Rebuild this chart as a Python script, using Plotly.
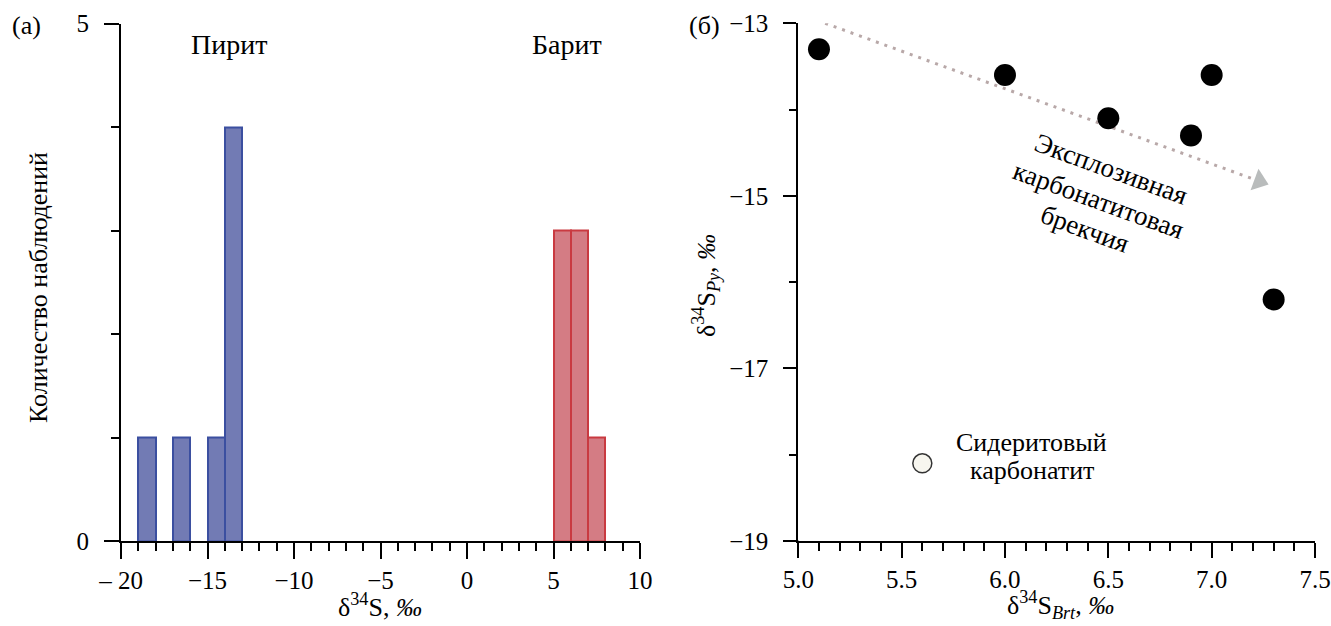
import plotly.graph_objects as go

W, H = 1331, 626

# ---- (a) histogram of δ34S: bins are 1 ‰ wide, given by their left edges ----
pyrite_bin_left = [-19, -17, -15, -14]
pyrite_counts = [1, 1, 1, 4]
barite_bin_left = [5, 6, 7]
barite_counts = [3, 3, 1]
bin_width = 1

hist_x_ticks = [-20, -15, -10, -5, 0, 5, 10]
hist_x_ticktext = ["– 20", "−15", "−10", "−5", "0", "5", "10"]
hist_y_ticks = [0, 5]
hist_y_ticktext = ["0", "5"]

# ---- (б) δ34S of pyrite vs barite ----
breccia_brt = [5.1, 6.0, 6.5, 6.9, 7.0, 7.3]
breccia_py = [-13.3, -13.6, -14.1, -14.3, -13.6, -16.2]
siderite_brt = [5.6]
siderite_py = [-18.1]

# trend arrow (start, head)
trend_x = [5.13, 7.23]
trend_y = [-13.0, -14.83]

FONT = "Liberation Serif"
BLUE_FILL, BLUE_LINE = "#727bb4", "#3b4fa0"
RED_FILL, RED_LINE = "#d47c84", "#c93a41"

# plot areas in pixels (left, right, top, bottom)
A = (121, 640, 23.5, 541)
B = (798.3, 1315, 23.3, 541)


def xdom(box):
    return [box[0] / W, box[1] / W]


def ydom(box):
    return [1 - box[3] / H, 1 - box[2] / H]


fig = go.Figure()

fig.add_trace(go.Bar(
    x=[l + bin_width / 2 for l in pyrite_bin_left], y=pyrite_counts, width=bin_width,
    marker=dict(color=BLUE_FILL, line=dict(color=BLUE_LINE, width=2)),
    xaxis="x", yaxis="y", showlegend=False))
fig.add_trace(go.Bar(
    x=[l + bin_width / 2 for l in barite_bin_left], y=barite_counts, width=bin_width,
    marker=dict(color=RED_FILL, line=dict(color=RED_LINE, width=2)),
    xaxis="x", yaxis="y", showlegend=False))

# dotted trend line with a grey arrowhead
fig.add_trace(go.Scatter(
    x=trend_x, y=trend_y, mode="lines",
    line=dict(color="#b8a8a8", width=3, dash="3px,6px"),
    xaxis="x2", yaxis="y2", showlegend=False, hoverinfo="skip"))
fig.add_trace(go.Scatter(
    x=trend_x[-1:], y=trend_y[-1:], mode="markers",
    marker=dict(symbol="triangle-right", size=20, angle=20, color="#b9bcbc",
                line=dict(width=0)),
    xaxis="x2", yaxis="y2", showlegend=False, cliponaxis=False))

fig.add_trace(go.Scatter(
    x=breccia_brt, y=breccia_py, mode="markers",
    marker=dict(size=22, color="black"),
    xaxis="x2", yaxis="y2", showlegend=False, cliponaxis=False))
fig.add_trace(go.Scatter(
    x=siderite_brt, y=siderite_py, mode="markers",
    marker=dict(size=19, color="#f7f6ef", line=dict(color="#333333", width=1.5)),
    xaxis="x2", yaxis="y2", showlegend=False, cliponaxis=False))

axis_common = dict(
    showline=True, linecolor="black", linewidth=2, showgrid=False, zeroline=False,
    ticks="outside", tickwidth=2, tickcolor="black", automargin=False,
    tickfont=dict(family=FONT, size=25, color="black"),
)

fig.update_layout(
    template="none",
    width=W, height=H,
    margin=dict(l=0, r=0, t=0, b=0, autoexpand=False),
    paper_bgcolor="white", plot_bgcolor="white",
    font=dict(family=FONT, size=25, color="black"),
    bargap=0,
    xaxis=dict(domain=xdom(A), range=[-20, 10], anchor="y",
               tickmode="array", tickvals=hist_x_ticks, ticktext=hist_x_ticktext,
               ticklen=16,
               minor=dict(tickmode="linear", tick0=0, dtick=1, ticklen=8,
                          tickwidth=2, tickcolor="black", ticks="outside"),
               **axis_common),
    yaxis=dict(domain=ydom(A), range=[0, 5], anchor="x",
               tickmode="array", tickvals=hist_y_ticks, ticktext=hist_y_ticktext,
               ticklen=15, ticklabelstandoff=10,
               minor=dict(tickmode="linear", tick0=0, dtick=1, ticklen=8,
                          tickwidth=2, tickcolor="black", ticks="outside"),
               **axis_common),
    xaxis2=dict(domain=xdom(B), range=[5, 7.5], anchor="y2",
                tickmode="linear", tick0=5, dtick=0.5, tickformat=".1f",
                ticklen=15,
                minor=dict(tickmode="linear", tick0=5, dtick=0.1, ticklen=8,
                           tickwidth=2, tickcolor="black", ticks="outside"),
                **axis_common),
    yaxis2=dict(domain=ydom(B), range=[-19, -13], anchor="x2",
                tickmode="linear", tick0=-13, dtick=2,
                ticklen=13, ticklabelstandoff=10,
                minor=dict(tickmode="linear", tick0=-13, dtick=1, ticklen=7,
                           tickwidth=2, tickcolor="black", ticks="outside"),
                **axis_common),
)

# x-axis lines run a little past the y axes on the left
for box in (A, B):
    fig.add_shape(type="line", xref="paper", yref="paper",
                  x0=(box[0] - 15) / W, x1=box[0] / W,
                  y0=1 - box[3] / H, y1=1 - box[3] / H,
                  line=dict(color="black", width=2))


def label(text, px, py, size=26, angle=0, **kw):
    fig.add_annotation(text=text, x=px / W, y=1 - py / H, xref="paper", yref="paper",
                       showarrow=False, xanchor="center", yanchor="middle",
                       textangle=angle, font=dict(family=FONT, size=size, color="black"),
                       **kw)


label("(a)", 26, 25, size=26)
label("(б)", 705, 25, size=26)
label("Пирит", 229, 44, size=28)
label("Барит", 567, 44, size=28)
label("δ<sup>34</sup>S, <i>‰</i>", 380, 605, size=26)
label("Количество наблюдений", 38, 288, size=26, angle=-90)
label("δ<sup>34</sup>S<sub><i>Brt</i></sub>, <i>‰</i>", 1060, 605, size=26)
label("δ<sup>34</sup>S<sub><i>Py</i></sub>, <i>‰</i>", 706, 286, size=26, angle=-90)

# two-line label beside the open circle
label("Сидеритовый", 1031, 442, size=26)
label("карбонатит", 1032, 471, size=26)

# rotated label along the trend arrow
label("Эксплозивная", 1111, 169, size=27, angle=20)
label("карбонатитовая", 1098, 200, size=27, angle=20)
label("брекчия", 1085, 229, size=27, angle=20)

fig.write_html("out.html")
